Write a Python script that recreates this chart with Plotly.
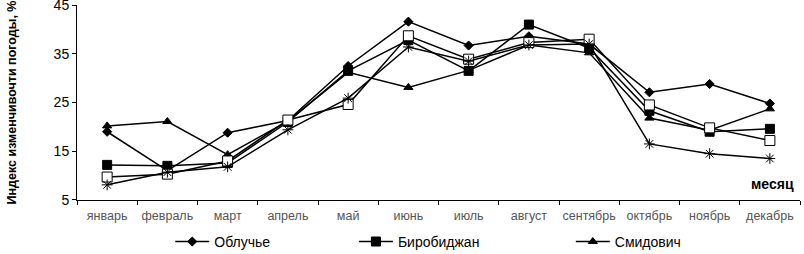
import plotly.graph_objects as go

months = ["январь", "февраль", "март", "апрель", "май", "июнь", "июль",
          "август", "сентябрь", "октябрь", "ноябрь", "декабрь"]
y_ticks = [5, 15, 25, 35, 45]

obluchye = [19.0, 11.0, 18.8, 21.3, 32.5, 41.6, 36.7, 38.6, 37.0, 27.1, 28.8, 24.8]
birobidzhan = [12.2, 12.0, 12.6, 21.0, 31.5, 37.8, 31.5, 41.0, 36.2, 23.3, 19.0, 19.6]
smidovich = [20.2, 21.1, 14.3, 21.2, 31.2, 28.1, 31.6, 36.8, 35.2, 21.8, 19.3, 23.7]
leninskoe = [9.7, 10.3, 13.0, 21.4, 24.6, 38.7, 33.9, 37.3, 38.0, 24.5, 19.8, 17.2]
ekaterino = [8.1, 10.7, 11.8, 19.4, 25.9, 36.4, 33.5, 36.8, 37.0, 16.5, 14.5, 13.5]

series_names = ["Облучье", "Биробиджан", "Смидович", "Ленинское", "Екатерино-Никольское"]

fig = go.Figure()
styles = [
    dict(symbol="diamond", size=7, color="black", line=dict(color="black", width=1)),
    dict(symbol="square", size=9, color="black", line=dict(color="black", width=1)),
    dict(symbol="triangle-up", size=8, color="black", line=dict(color="black", width=1)),
    dict(symbol="square", size=10, color="white", line=dict(color="black", width=1)),
    dict(symbol="asterisk-open", size=9, color="black", line=dict(color="black", width=1)),
]
data = [obluchye, birobidzhan, smidovich, leninskoe, ekaterino]
legends = ["legend", "legend2", "legend3", None, None]
for name, vals, st, lg in zip(series_names, data, styles, legends):
    kw = dict(x=months, y=vals, name=name, mode="lines+markers",
              line=dict(color="black", width=1.5), marker=st)
    if lg:
        kw["legend"] = lg
    else:
        kw["showlegend"] = False
    fig.add_trace(go.Scatter(**kw))

leg_common = dict(orientation="h", yanchor="middle", y=-0.215, xanchor="left",
                  font=dict(family="Liberation Sans, Arial, sans-serif", size=14, color="black"),
                  bgcolor="rgba(0,0,0,0)", itemwidth=34)

fig.update_layout(
    width=804, height=254,
    margin=dict(l=77, r=4, t=5, b=54, autoexpand=False),
    paper_bgcolor="white", plot_bgcolor="white",
    font=dict(family="Liberation Sans, Arial, sans-serif", color="black"),
    legend=dict(x=0.129, **leg_common),
    legend2=dict(x=0.383, **leg_common),
    legend3=dict(x=0.683, **leg_common),
    xaxis=dict(
        range=[-0.5, len(months) - 0.5],
        showline=True, linecolor="black", linewidth=1,
        ticks="outside", tickson="boundaries", ticklen=4, tickcolor="black",
        tickfont=dict(size=12.5, color="#555555"), tickangle=0,
        ticklabelstandoff=4, automargin=False,
        showgrid=False, zeroline=False,
    ),
    yaxis=dict(
        range=[4.99, 45.02], tickvals=y_ticks, ticktext=[str(v) for v in y_ticks],
        showline=True, linecolor="black", linewidth=1,
        ticks="outside", ticklen=4, tickcolor="black",
        tickfont=dict(size=14, color="black"),
        ticklabeloverflow="allow", automargin=False,
        showgrid=False, zeroline=False,
        title=dict(text="<b>Индекс изменчивочти погоды, %</b>",
                   font=dict(family="Liberation Sans Narrow, Arial Narrow, sans-serif", size=12.5),
                   standoff=34),
    ),
    annotations=[dict(text="<b>месяц</b>", xref="paper", yref="paper",
                      x=0.994, y=0.08, xanchor="right", yanchor="middle",
                      showarrow=False, font=dict(size=14, color="black"))],
)

fig.write_html("out.html", config={"displayModeBar": False},
               post_script="document.body.style.margin='0';")
